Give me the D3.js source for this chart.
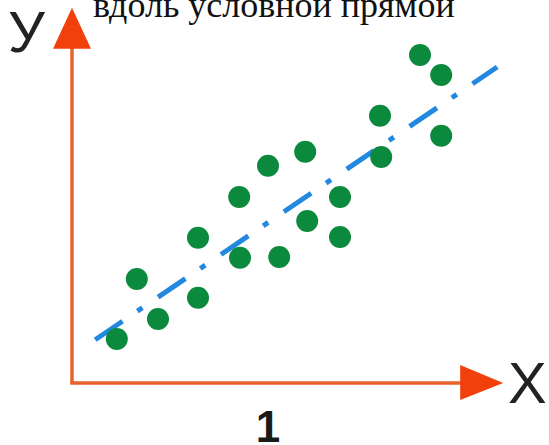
<!DOCTYPE html>
<html>
<head>
<meta charset="utf-8">
<script src="https://cdn.jsdelivr.net/npm/d3@7"></script>
<style>
html,body{margin:0;padding:0;background:#fff;}
svg{display:block;}
</style>
</head>
<body>
<svg id="chart" width="549" height="445"></svg>
<script>
// ---- data ----
const title = "вдоль условной прямой";
const xLabel = "X";
const yLabel = "У";
const figLabel = "1";
const pointX = [1.12, 1.62, 2.15, 3.15, 3.15, 4.18, 4.2, 4.9, 5.18, 5.83, 5.88, 6.7, 6.7, 7.7, 7.73, 8.7, 9.23, 9.23];
const pointY = [1.1, 2.6, 1.6, 3.63, 2.13, 4.65, 3.13, 5.43, 3.15, 5.78, 4.05, 4.65, 3.65, 6.68, 5.65, 8.2, 7.7, 6.18];
const trendX = [0.58, 10.63];
const trendY = [1.08, 7.9];
const axisMaxX = 10.78;
const axisMaxY = 9.38;

// ---- scales ----
const x = d3.scaleLinear().domain([0, 10]).range([72, 472]);
const y = d3.scaleLinear().domain([0, 10]).range([383, -17]);

const svg = d3.select("#chart");

// title
svg.append("text")
  .attr("x", 93).attr("y", 17)
  .attr("font-family", "'Liberation Serif', 'Times New Roman', serif")
  .attr("font-size", 36)
  .attr("fill", "#111")
  .text(title);

// axes lines
const axisColor = "#e8622c";
const arrowColor = "#f2400c";
svg.append("line")
  .attr("x1", x(0)).attr("y1", y(0))
  .attr("x2", x(0)).attr("y2", y(axisMaxY) + 36)
  .attr("stroke", axisColor).attr("stroke-width", 3.5);
svg.append("line")
  .attr("x1", x(0) - 1.75).attr("y1", y(0))
  .attr("x2", x(axisMaxX) - 36).attr("y2", y(0))
  .attr("stroke", axisColor).attr("stroke-width", 3.5);

// arrow heads
const yTip = [x(0), y(axisMaxY)];
svg.append("path")
  .attr("d", `M${yTip[0]},${yTip[1]} L${yTip[0] + 19},${yTip[1] + 41} L${yTip[0] - 19},${yTip[1] + 41} Z`)
  .attr("fill", arrowColor);
const xTip = [x(axisMaxX), y(0)];
svg.append("path")
  .attr("d", `M${xTip[0]},${xTip[1]} L${xTip[0] - 43},${xTip[1] - 18} L${xTip[0] - 43},${xTip[1] + 17} Z`)
  .attr("fill", arrowColor);

// axis labels
svg.append("text")
  .attr("x", 8).attr("y", 52)
  .attr("font-family", "'Liberation Sans', Arial, sans-serif")
  .attr("font-size", 58)
  .attr("fill", "#222")
  .text(yLabel);
svg.append("text")
  .attr("x", 508).attr("y", 403)
  .attr("font-family", "'Liberation Sans', Arial, sans-serif")
  .attr("font-size", 58)
  .attr("fill", "#222")
  .text(xLabel);
svg.append("text")
  .attr("x", 268).attr("y", 442)
  .attr("text-anchor", "middle")
  .attr("font-family", "'Liberation Sans', Arial, sans-serif")
  .attr("font-weight", "bold")
  .attr("font-size", 44)
  .attr("fill", "#1a1a1a")
  .text(figLabel);

// trend line (dash-dot)
const line = d3.line().x(d => x(d[0])).y(d => y(d[1]));
svg.append("path")
  .datum(d3.zip(trendX, trendY))
  .attr("d", line)
  .attr("fill", "none")
  .attr("stroke", "#2288e0")
  .attr("stroke-width", 5)
  .attr("stroke-dasharray", "33 18 6 19");

// points
svg.selectAll("circle.pt")
  .data(d3.zip(pointX, pointY))
  .join("circle")
  .attr("class", "pt")
  .attr("cx", d => x(d[0]))
  .attr("cy", d => y(d[1]))
  .attr("r", 11)
  .attr("fill", "#0b8a3e");
</script>
</body>
</html>
